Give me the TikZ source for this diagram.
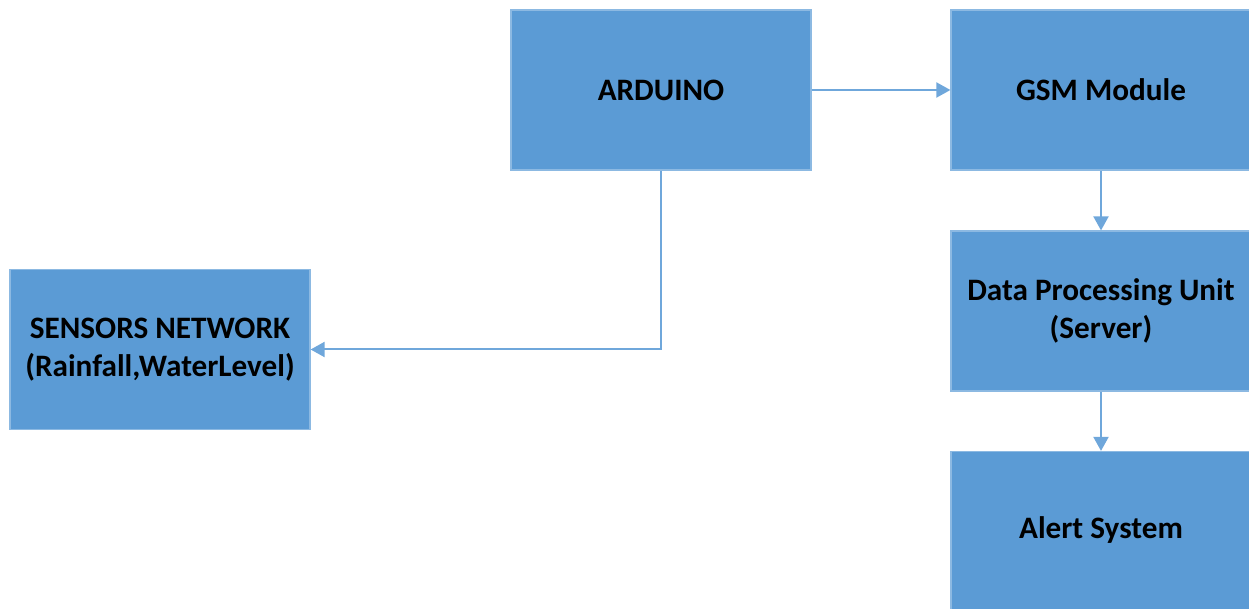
\documentclass[tikz,border=0pt]{standalone}
\usepackage{fontspec}
\setmainfont{Carlito}
\usetikzlibrary{arrows.meta}
\definecolor{boxblue}{HTML}{5B9BD5}
\definecolor{linkblue}{HTML}{6FA7DB}
\begin{document}
\begin{tikzpicture}[x=0.5pt,y=-0.5pt,
  block/.style={fill=boxblue, draw=boxblue!70!white, line width=0.6pt,
    minimum width=150pt, minimum height=80pt, inner sep=0pt,
    align=center, font=\fontsize{15.6}{19.2}\selectfont\bfseries},
  link/.style={draw=linkblue, line width=1pt,
    -{Triangle[length=7pt,width=7.5pt]}}]
  \useasboundingbox (0,0) rectangle (1249,609);
  \node[block] (ard) at (661,90) {ARDUINO};
  \node[block] (gsm) at (1101,90) {GSM Module};
  \node[block] (dpu) at (1101,311) {Data Processing Unit\\(Server)};
  \node[block, minimum height=79pt] (alert) at (1101,530.5) {Alert System};
  \node[block] (sens) at (160,349.5) {SENSORS NETWORK\\(Rainfall,WaterLevel)};
  \draw[link] (ard.east) -- (gsm.west);
  \draw[link] (gsm.south) -- (dpu.north);
  \draw[link] (dpu.south) -- (alert.north);
  \draw[link] (ard.south) |- (sens.east);
\end{tikzpicture}
\end{document}
